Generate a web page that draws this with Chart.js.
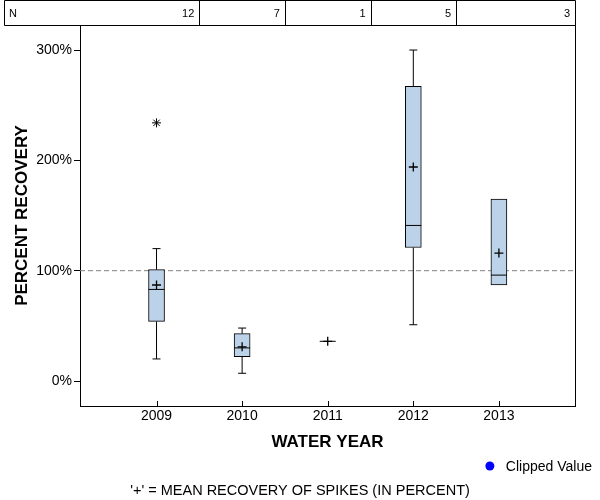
<!DOCTYPE html>
<html><head><meta charset="utf-8">
<script src="https://cdn.jsdelivr.net/npm/chart.js@4/dist/chart.umd.min.js"></script>
<style>html,body{margin:0;padding:0;background:#fff}#wrap{width:600px;height:500px}</style>
</head><body><div id="wrap"><canvas id="c" width="600" height="500"></canvas></div>
<script>
// ---- data ----
const years = ['2009', '2010', '2011', '2012', '2013'];
const nCounts = [12, 7, 1, 5, 3];
const whiskerLow = [20, 7, null, 51, null];
const q1 = [54, 22, null, 121, 87];
const medians = [83, 30, 36, 141, 96];
const q3 = [101, 43, null, 267, 165];
const whiskerHigh = [120, 48, null, 300, null];
const means = [87, 31, 36, 194, 116];
const outlierIndex = [0];
const outlierValue = [234];
const yTickValues = [0, 100, 200, 300];
const referenceValue = 100;
const legendLabel = 'Clipped Value';
const footerText = "'+' = MEAN RECOVERY OF SPIKES (IN PERCENT)";
const xTitle = 'WATER YEAR';
const yTitle = 'PERCENT RECOVERY';

// ---- axis extents ----
const xMin = -0.894, xMax = 4.889, yMin = -22.66, yMax = 322.7;
const FONT = "'Liberation Sans', Arial, sans-serif";

const boxData = [];
years.forEach((_, i) => { if (q1[i] != null) boxData.push({x: i, y: [q1[i], q3[i]]}); });
const whiskerData = [];
const capData = [];
years.forEach((_, i) => {
  if (whiskerHigh[i] != null) {
    whiskerData.push({x: i, y: q3[i]}, {x: i, y: whiskerHigh[i]}, {x: i, y: null});
    capData.push({x: i, y: whiskerHigh[i]});
  }
  if (whiskerLow[i] != null) {
    whiskerData.push({x: i, y: whiskerLow[i]}, {x: i, y: q1[i]}, {x: i, y: null});
    capData.push({x: i, y: whiskerLow[i]});
  }
});
const medianData = medians.map((v, i) => ({x: i, y: v}));
const meanData = means.map((v, i) => ({x: i, y: v}));
const outlierData = outlierIndex.map((xi, k) => ({x: xi, y: outlierValue[k]}));
const refData = [{x: xMin, y: referenceValue}, {x: xMax, y: referenceValue}];

const deco = {
  id: 'deco',
  afterDraw(chart) {
    const {ctx, chartArea: a, scales: {x}} = chart;
    ctx.save();
    ctx.strokeStyle = '#000';
    ctx.lineWidth = 1;
    ctx.beginPath();
    // top and right frame
    ctx.moveTo(Math.round(a.left), a.top + 0.5);
    ctx.lineTo(Math.round(a.right) + 0.5, a.top + 0.5);
    ctx.lineTo(Math.round(a.right) + 0.5, Math.round(a.bottom) + 0.5);
    // inward x tick marks
    years.forEach((_, i) => {
      const px = Math.round(x.getPixelForValue(i)) + 0.5;
      ctx.moveTo(px, a.bottom);
      ctx.lineTo(px, a.bottom - 5);
    });
    ctx.stroke();
    // N table
    const tTop = 0.5, tBot = a.top + 0.5;
    ctx.beginPath();
    ctx.rect(4.5, tTop, Math.round(a.right) - 4, tBot - tTop);
    for (let i = 0; i < years.length - 1; i++) {
      const px = Math.round(x.getPixelForValue(i + 0.5)) + 0.5;
      ctx.moveTo(px, tTop);
      ctx.lineTo(px, tBot);
    }
    ctx.stroke();
    ctx.fillStyle = '#000';
    ctx.font = '11px ' + FONT;
    ctx.textBaseline = 'middle';
    ctx.textAlign = 'left';
    const ty = (tTop + tBot) / 2 + 1;
    ctx.fillText('N', 9, ty);
    ctx.textAlign = 'right';
    nCounts.forEach((n, i) => {
      const right = i < years.length - 1 ? x.getPixelForValue(i + 0.5) : a.right;
      ctx.fillText(String(n), right - 5, ty);
    });
    // legend
    ctx.font = '14px ' + FONT;
    ctx.textAlign = 'right';
    ctx.fillText(legendLabel, 592, 467);
    const tw = ctx.measureText(legendLabel).width;
    ctx.fillStyle = '#0000ff';
    ctx.beginPath();
    ctx.arc(592 - tw - 16, 466, 4.5, 0, Math.PI * 2);
    ctx.fill();
    // footer
    ctx.fillStyle = '#000';
    ctx.textAlign = 'center';
    ctx.font = '14.5px ' + FONT;
    ctx.fillText(footerText, chart.width / 2, 491);
    ctx.restore();
  }
};

new Chart(document.getElementById('c'), {
  type: 'bar',
  data: {
    datasets: [
      {type: 'scatter', label: 'ref', data: refData, showLine: true, borderColor: '#808080', borderWidth: 1,
       borderDash: [5, 3], pointRadius: 0, order: 10},
      {type: 'bar', label: 'box', data: boxData, backgroundColor: '#bcd2e8', borderColor: '#000', borderWidth: 1,
       borderSkipped: false, barThickness: 16, order: 5},
      {type: 'scatter', label: 'whisker', data: whiskerData, showLine: true, spanGaps: false, borderColor: '#000',
       borderWidth: 1, pointRadius: 0, order: 6},
      {type: 'scatter', label: 'cap', data: capData, pointStyle: 'line', pointRadius: 4, pointBorderWidth: 1,
       borderColor: '#000', backgroundColor: '#000', order: 4},
      {type: 'scatter', label: 'median', data: medianData, pointStyle: 'line', pointRadius: 8, pointBorderWidth: 1,
       borderColor: '#000', backgroundColor: '#000', order: 3},
      {type: 'scatter', label: 'mean', data: meanData, pointStyle: 'cross', pointRadius: 4.5, pointBorderWidth: 1.3,
       borderColor: '#000', backgroundColor: '#000', order: 2},
      {type: 'scatter', label: 'outlier', data: outlierData, pointStyle: 'star', pointRadius: 4.5, pointBorderWidth: 1,
       borderColor: '#000', backgroundColor: '#000', order: 1}
    ]
  },
  options: {
    responsive: false,
    animation: false,
    devicePixelRatio: 1,
    layout: {padding: {left: 0, right: 25, top: 25, bottom: 44}},
    plugins: {legend: {display: false}, tooltip: {enabled: false}, title: {display: false}},
    scales: {
      x: {
        type: 'linear', min: xMin, max: xMax, offset: false,
        afterBuildTicks: ax => { ax.ticks = years.map((_, i) => ({value: i})); },
        afterFit: ax => { ax.height = 50; },
        ticks: {callback: v => years[v], autoSkip: false, maxRotation: 0, color: '#000',
                font: {family: FONT, size: 14}, padding: 2},
        grid: {display: false, drawTicks: false},
        border: {display: true, color: '#000', width: 1},
        title: {display: true, text: xTitle, color: '#000', font: {family: FONT, size: 17, weight: 'bold'},
                padding: {top: 0, bottom: 3}}
      },
      y: {
        type: 'linear', min: yMin, max: yMax,
        afterBuildTicks: ax => { ax.ticks = yTickValues.map(v => ({value: v})); },
        afterFit: ax => { ax.width = 80; },
        ticks: {callback: v => v + '%', color: '#000', font: {family: FONT, size: 14}, padding: 2},
        grid: {drawOnChartArea: false, drawTicks: true, tickLength: 6, color: '#000'},
        border: {display: true, color: '#000', width: 1},
        title: {display: true, text: yTitle, color: '#000', font: {family: FONT, size: 17, weight: 'bold'},
                padding: {top: 12, bottom: 0}}
      }
    }
  },
  plugins: [deco]
});
</script>
</body></html>
